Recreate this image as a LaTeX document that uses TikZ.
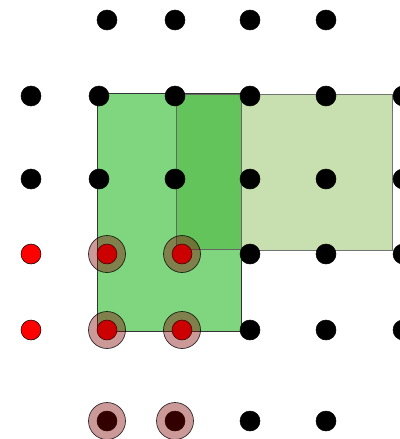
\documentclass[tikz,border=0pt]{standalone}
\usepackage{tikz}
\usepackage{xcolor}
\usetikzlibrary{positioning}
\definecolor{boxgreen}{RGB}{127,214,127}
\definecolor{boxdark}{RGB}{98,196,90}
\definecolor{boxpale}{RGB}{200,223,176}
\definecolor{ringred}{RGB}{128,0,0}
\tikzset{
  dotblack/.style={circle,draw=black,fill=black,minimum size=20pt,inner sep=0pt,line width=0.5pt},
  dotred/.style={circle,draw=black,fill=red,minimum size=20pt,inner sep=0pt,line width=0.5pt},
  ringmark/.style={circle,draw=black,fill=ringred,fill opacity=0.4,draw opacity=0.8,minimum size=37pt,inner sep=0pt,line width=0.7pt}
}

\begin{document}
\begin{tikzpicture}[x=1pt,y=-1pt]
  \useasboundingbox (0,0) rectangle (399,439);
  % squares
  \draw[fill=boxgreen,draw=black!80,line width=0.8pt] (97,93) rectangle (241,331);
  \draw[fill=boxpale,draw=black!55,line width=0.8pt] (241,94) rectangle (392,250);
  \draw[fill=boxdark,draw=black!60,line width=0.6pt] (176,94) rectangle (241,249);
  % black dots
  \foreach \x/\y [count=\i] in {107/20,175/20,250/20,326/20,
      31/96,99/96,175/96,250/96,326/96,403/96,
      31/179,99/179,175/179,250/179,326/179,403/179,
      250/254,326/254,403/254,
      250/330,326/330,403/330,
      107/421,175/421,250/421,326/421}
    \node[dotblack] (b\i) at (\x,\y) {};
  % red dots
  \foreach \x/\y [count=\i] in {31/254,107/254,182/254,31/330,107/330,182/330}
    \node[dotred] (r\i) at (\x,\y) {};
  % rings
  \foreach \x/\y [count=\i] in {107/254,182/254,107/330,182/330,107/421,175/421}
    \node[ringmark] (m\i) at (\x,\y) {};
\end{tikzpicture}
\end{document}
